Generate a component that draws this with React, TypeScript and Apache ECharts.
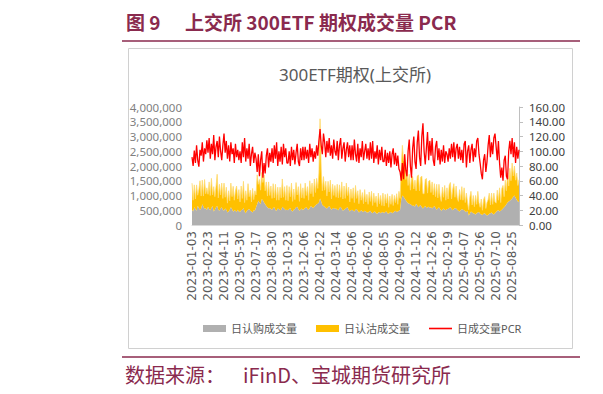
import React, { useEffect, useRef } from "react";
import * as echarts from "echarts";

// X-axis tick labels (one every 14 points)
const xLabels = [
  "2023-01-03", "2023-02-23", "2023-04-11", "2023-05-30", "2023-07-17", "2023-08-30",
  "2023-10-23", "2023-12-06", "2024-01-22", "2024-03-14", "2024-05-06", "2024-06-20",
  "2024-08-05", "2024-09-20", "2024-11-12", "2024-12-26", "2025-02-19", "2025-04-07",
  "2025-05-26", "2025-07-10", "2025-08-25",
];
const STEP = 14;
const TAIL = 7;

// 日认购成交量 (thousand contracts)
const callVol = [
  520, 460, 600, 540, 480, 650, 580, 520, 560, 700, 620, 540, 580, 500,
  620, 540, 500, 580, 640, 460, 520, 600, 640, 520, 480, 560, 600, 520,
  480, 560, 520, 420, 460, 520, 600, 540, 450, 500, 480, 440, 520, 460,
  440, 500, 520, 580, 460, 400, 480, 520, 540, 480, 460, 420, 500, 480,
  600, 700, 820, 760, 700, 880, 840, 760, 700, 640, 600, 560, 580, 540,
  520, 580, 600, 500, 480, 560, 540, 500, 520, 620, 580, 540, 500, 520,
  500, 540, 580, 480, 460, 520, 540, 600, 620, 540, 480, 520, 560, 500,
  540, 580, 600, 540, 520, 580, 640, 600, 580, 620, 660, 700, 720, 760,
  900, 800, 680, 640, 620, 580, 560, 600, 640, 580, 520, 560, 580, 540,
  560, 520, 500, 580, 620, 540, 480, 520, 540, 580, 600, 520, 460, 500,
  520, 480, 460, 520, 540, 480, 420, 460, 500, 460, 440, 480, 460, 420,
  420, 460, 480, 420, 400, 440, 460, 400, 380, 420, 440, 400, 420, 440,
  400, 440, 460, 400, 380, 420, 440, 400, 420, 460, 480, 440, 460, 480,
  520, 860, 1000, 960, 900, 840, 780, 740, 720, 700, 680, 640, 660, 620,
  720, 660, 600, 640, 680, 600, 560, 600, 640, 580, 600, 620, 580, 600,
  560, 600, 640, 580, 520, 560, 600, 540, 480, 520, 560, 520, 500, 540,
  540, 580, 600, 540, 500, 540, 580, 560, 520, 480, 460, 500, 540, 520,
  500, 460, 440, 480, 320, 380, 460, 420, 400, 380, 360, 400, 420, 440,
  380, 360, 340, 380, 400, 360, 320, 340, 380, 400, 420, 380, 360, 400,
  440, 480, 500, 460, 480, 520, 560, 600, 640, 700, 760, 800, 820, 860,
  900, 960, 1000, 920, 860, 800, 780,
];

// 日认沽成交量 (thousand contracts, stacked on top of calls)
const putVol = [
  900, 380, 760, 340, 880, 360, 620, 980, 420, 820, 360, 1000, 480, 760,
  420, 920, 500, 1000, 380, 840, 440, 700, 1080, 400, 900, 460, 820, 380,
  940, 380, 760, 320, 700, 300, 820, 420, 860, 340, 680, 880, 360, 740,
  340, 820, 380, 900, 300, 760, 360, 880, 420, 700, 320, 820, 360, 680,
  420, 1000, 560, 780, 480, 900, 600, 940, 460, 820, 380, 900, 420, 780,
  380, 820, 320, 880, 360, 720, 300, 780, 400, 940, 360, 760, 340, 820,
  320, 760, 380, 940, 340, 700, 320, 840, 400, 760, 320, 880, 360, 760,
  360, 840, 400, 760, 320, 920, 420, 820, 380, 940, 440, 880, 520, 1000,
  2700, 1100, 480, 1000, 560, 900, 420, 880, 480, 940, 360, 820, 420, 800,
  380, 860, 420, 780, 320, 920, 400, 800, 360, 840, 400, 760, 320, 720,
  380, 780, 300, 820, 360, 680, 300, 740, 340, 640, 280, 720, 320, 620,
  280, 660, 320, 720, 260, 640, 300, 580, 240, 660, 280, 600, 240, 640,
  240, 600, 280, 660, 220, 560, 260, 640, 240, 540, 280, 620, 240, 660,
  380, 1100, 1700, 1200, 1500, 700, 1100, 600, 1000, 480, 940, 1000, 560, 900,
  440, 980, 1100, 520, 940, 1060, 500, 460, 900, 1000, 480, 860, 940, 500,
  900, 420, 760, 380, 860, 360, 780, 440, 320, 760, 380, 820, 340, 720,
  340, 780, 840, 340, 700, 860, 360, 760, 400, 320, 740, 360, 760, 320,
  760, 300, 640, 280, 200, 560, 680, 260, 600, 240, 640, 300, 720, 320,
  220, 520, 160, 480, 560, 200, 440, 520, 700, 280, 660, 320, 720, 380,
  300, 700, 340, 800, 280, 720, 780, 360, 880, 460, 1000, 520, 1100, 640,
  1200, 700, 1000, 600, 900, 540, 760,
];

// 日成交量PCR (%)
const pcr = [
  92, 80, 101, 84, 108, 88, 79, 102, 94, 112, 86, 104, 96, 115,
  98, 118, 90, 110, 96, 122, 88, 106, 114, 92, 120, 100, 88, 108,
  124, 98, 114, 90, 108, 86, 112, 96, 104, 84, 110, 92, 102, 88,
  100, 84, 112, 92, 118, 86, 104, 90, 110, 80, 96, 106, 84, 98,
  90, 72, 96, 66, 88, 100, 64, 84, 70, 94, 104, 78, 98, 86,
  104, 84, 108, 90, 112, 80, 100, 86, 106, 82, 110, 92, 104, 84,
  84, 100, 80, 106, 88, 102, 82, 98, 110, 86, 80, 104, 88, 106,
  88, 106, 90, 102, 84, 110, 92, 104, 86, 100, 90, 108, 94, 114,
  130, 108, 96, 124, 112, 92, 114, 98, 118, 94, 108, 90, 116, 100,
  94, 114, 88, 108, 118, 90, 104, 112, 86, 102, 112, 92, 108, 88,
  108, 88, 116, 96, 86, 110, 84, 104, 92, 114, 88, 100, 110, 90,
  104, 88, 112, 90, 114, 84, 100, 90, 108, 82, 102, 88, 106, 86,
  86, 102, 80, 98, 84, 100, 78, 96, 104, 82, 98, 80, 94, 76,
  72, 60, 84, 62, 96, 74, 66, 100, 116, 80, 64, 104, 120, 86,
  76, 112, 128, 92, 80, 120, 138, 100, 82, 104, 126, 88, 114, 94,
  118, 88, 80, 106, 114, 88, 104, 82, 102, 86, 108, 84, 100, 96,
  86, 104, 90, 110, 92, 112, 86, 104, 110, 90, 106, 88, 102, 84,
  110, 114, 78, 100, 108, 84, 102, 110, 86, 104, 92, 114, 118, 96,
  84, 70, 62, 88, 96, 72, 86, 108, 122, 92, 112, 96, 118, 124,
  106, 88, 114, 84, 64, 78, 60, 88, 94, 66, 62, 100, 114, 96,
  118, 92, 112, 84, 106, 90, 102,
];

const UNIT = 1000;
const MAROON = "#8A2A4E";
const FONT = '"Noto Sans", "Noto Sans CJK SC", sans-serif';

export default function App() {
  const ref = useRef<HTMLDivElement>(null);
  useEffect(() => {
    if (!ref.current) return;
    const chart = echarts.init(ref.current, null, { renderer: "svg" });
    const categories: string[] = [];
    xLabels.forEach((d, i) => {
      categories.push(d);
      const fill = i < xLabels.length - 1 ? STEP - 1 : TAIL - 1;
      for (let k = 0; k < fill; k++) categories.push("");
    });
    chart.setOption({
      animation: false,
      textStyle: { fontFamily: FONT },
      title: {
        text: "300ETF期权(上交所)",
        left: 350,
        textAlign: "center",
        top: 61,
        textStyle: { fontSize: 17, fontWeight: "normal", color: "#595959", fontFamily: FONT },
      },
      graphic: [
        { type: "rect", shape: { x: 128.5, y: 48.5, width: 444, height: 300 }, style: { fill: "#fff", stroke: "#D0D0D0", lineWidth: 1 }, z: -10 },
        { type: "line", shape: { x1: 122, y1: 41, x2: 580, y2: 41 }, style: { stroke: MAROON, lineWidth: 1.5 } },
        { type: "line", shape: { x1: 122, y1: 357, x2: 580, y2: 357 }, style: { stroke: MAROON, lineWidth: 1.5 } },
        { type: "text", x: 126, y: 21, style: { text: "图 9", fill: MAROON, font: 'bold 19px "Noto Sans CJK SC", sans-serif', verticalAlign: "middle" } },
        { type: "text", x: 185, y: 21, style: { text: "上交所 300ETF 期权成交量 PCR", fill: MAROON, font: 'bold 19px "Noto Sans CJK SC", sans-serif', verticalAlign: "middle" } },
        { type: "text", x: 125, y: 374, style: { text: "数据来源：", fill: MAROON, font: '20px "Noto Sans CJK SC", sans-serif', verticalAlign: "middle" } },
        { type: "text", x: 243, y: 374, style: { text: "iFinD、宝城期货研究所", fill: MAROON, font: '20px "Noto Sans CJK SC", sans-serif', verticalAlign: "middle" } },
      ],
      legend: {
        left: 198,
        top: 318,
        itemWidth: 23,
        itemHeight: 7,
        itemGap: 19,
        textStyle: { fontSize: 11, color: "#595959", fontFamily: FONT },
        data: [
          { name: "日认购成交量", icon: "rect" },
          { name: "日认沽成交量", icon: "rect" },
          { name: "日成交量PCR", icon: "path://M0,0H23V1.6H0Z" },
        ],
      },
      grid: { left: 192, right: 84, top: 107, bottom: 169 },
      xAxis: {
        type: "category",
        data: categories,
        boundaryGap: false,
        axisLine: { show: true, lineStyle: { color: "#D9D9D9" } },
        axisTick: { show: false },
        axisLabel: {
          rotate: 90,
          interval: (idx: number) => idx % STEP === 0,
          fontSize: 12,
          color: "#595959",
          margin: 6,
          fontFamily: "DejaVu Sans",
        },
        splitLine: { show: false },
      },
      yAxis: [
        {
          type: "value",
          min: 0,
          max: 4000000,
          interval: 500000,
          axisLine: { show: false },
          axisTick: { show: false },
          splitLine: { show: false },
          axisLabel: {
            fontSize: 11.5,
            color: "#7F7F7F",
            margin: 10,
            formatter: (v: number) => v.toLocaleString("en-US"),
          },
        },
        {
          type: "value",
          min: 0,
          max: 160,
          interval: 20,
          position: "right",
          axisLine: { show: true, lineStyle: { color: "#BFBFBF" } },
          axisTick: { show: true, length: 4, lineStyle: { color: "#BFBFBF" } },
          splitLine: { show: false },
          axisLabel: {
            fontSize: 11.5,
            color: "#404040",
            margin: 10,
            formatter: (v: number) => v.toFixed(2),
          },
        },
      ],
      series: [
        {
          name: "日认购成交量",
          type: "line",
          stack: "vol",
          yAxisIndex: 0,
          symbol: "none",
          data: callVol.map((v) => v * UNIT),
          itemStyle: { color: "#B0B0B0" },
          lineStyle: { width: 0, color: "#B0B0B0" },
          areaStyle: { color: "#B0B0B0", opacity: 1 },
        },
        {
          name: "日认沽成交量",
          type: "line",
          stack: "vol",
          yAxisIndex: 0,
          symbol: "none",
          data: putVol.map((v) => v * UNIT),
          itemStyle: { color: "#FFC000" },
          lineStyle: { width: 0.8, color: "#FFDB70" },
          areaStyle: { color: "#FFC000", opacity: 1 },
        },
        {
          name: "日成交量PCR",
          type: "line",
          yAxisIndex: 1,
          symbol: "none",
          data: pcr,
          itemStyle: { color: "#FF0000" },
          lineStyle: { width: 1.3, color: "#FF0000" },
          z: 5,
        },
      ],
    });
    return () => chart.dispose();
  }, []);
  return (
    <div
      ref={ref}
      style={{ position: "fixed", left: 0, top: 0, width: 603, height: 394, background: "#fff" }}
    />
  );
}
